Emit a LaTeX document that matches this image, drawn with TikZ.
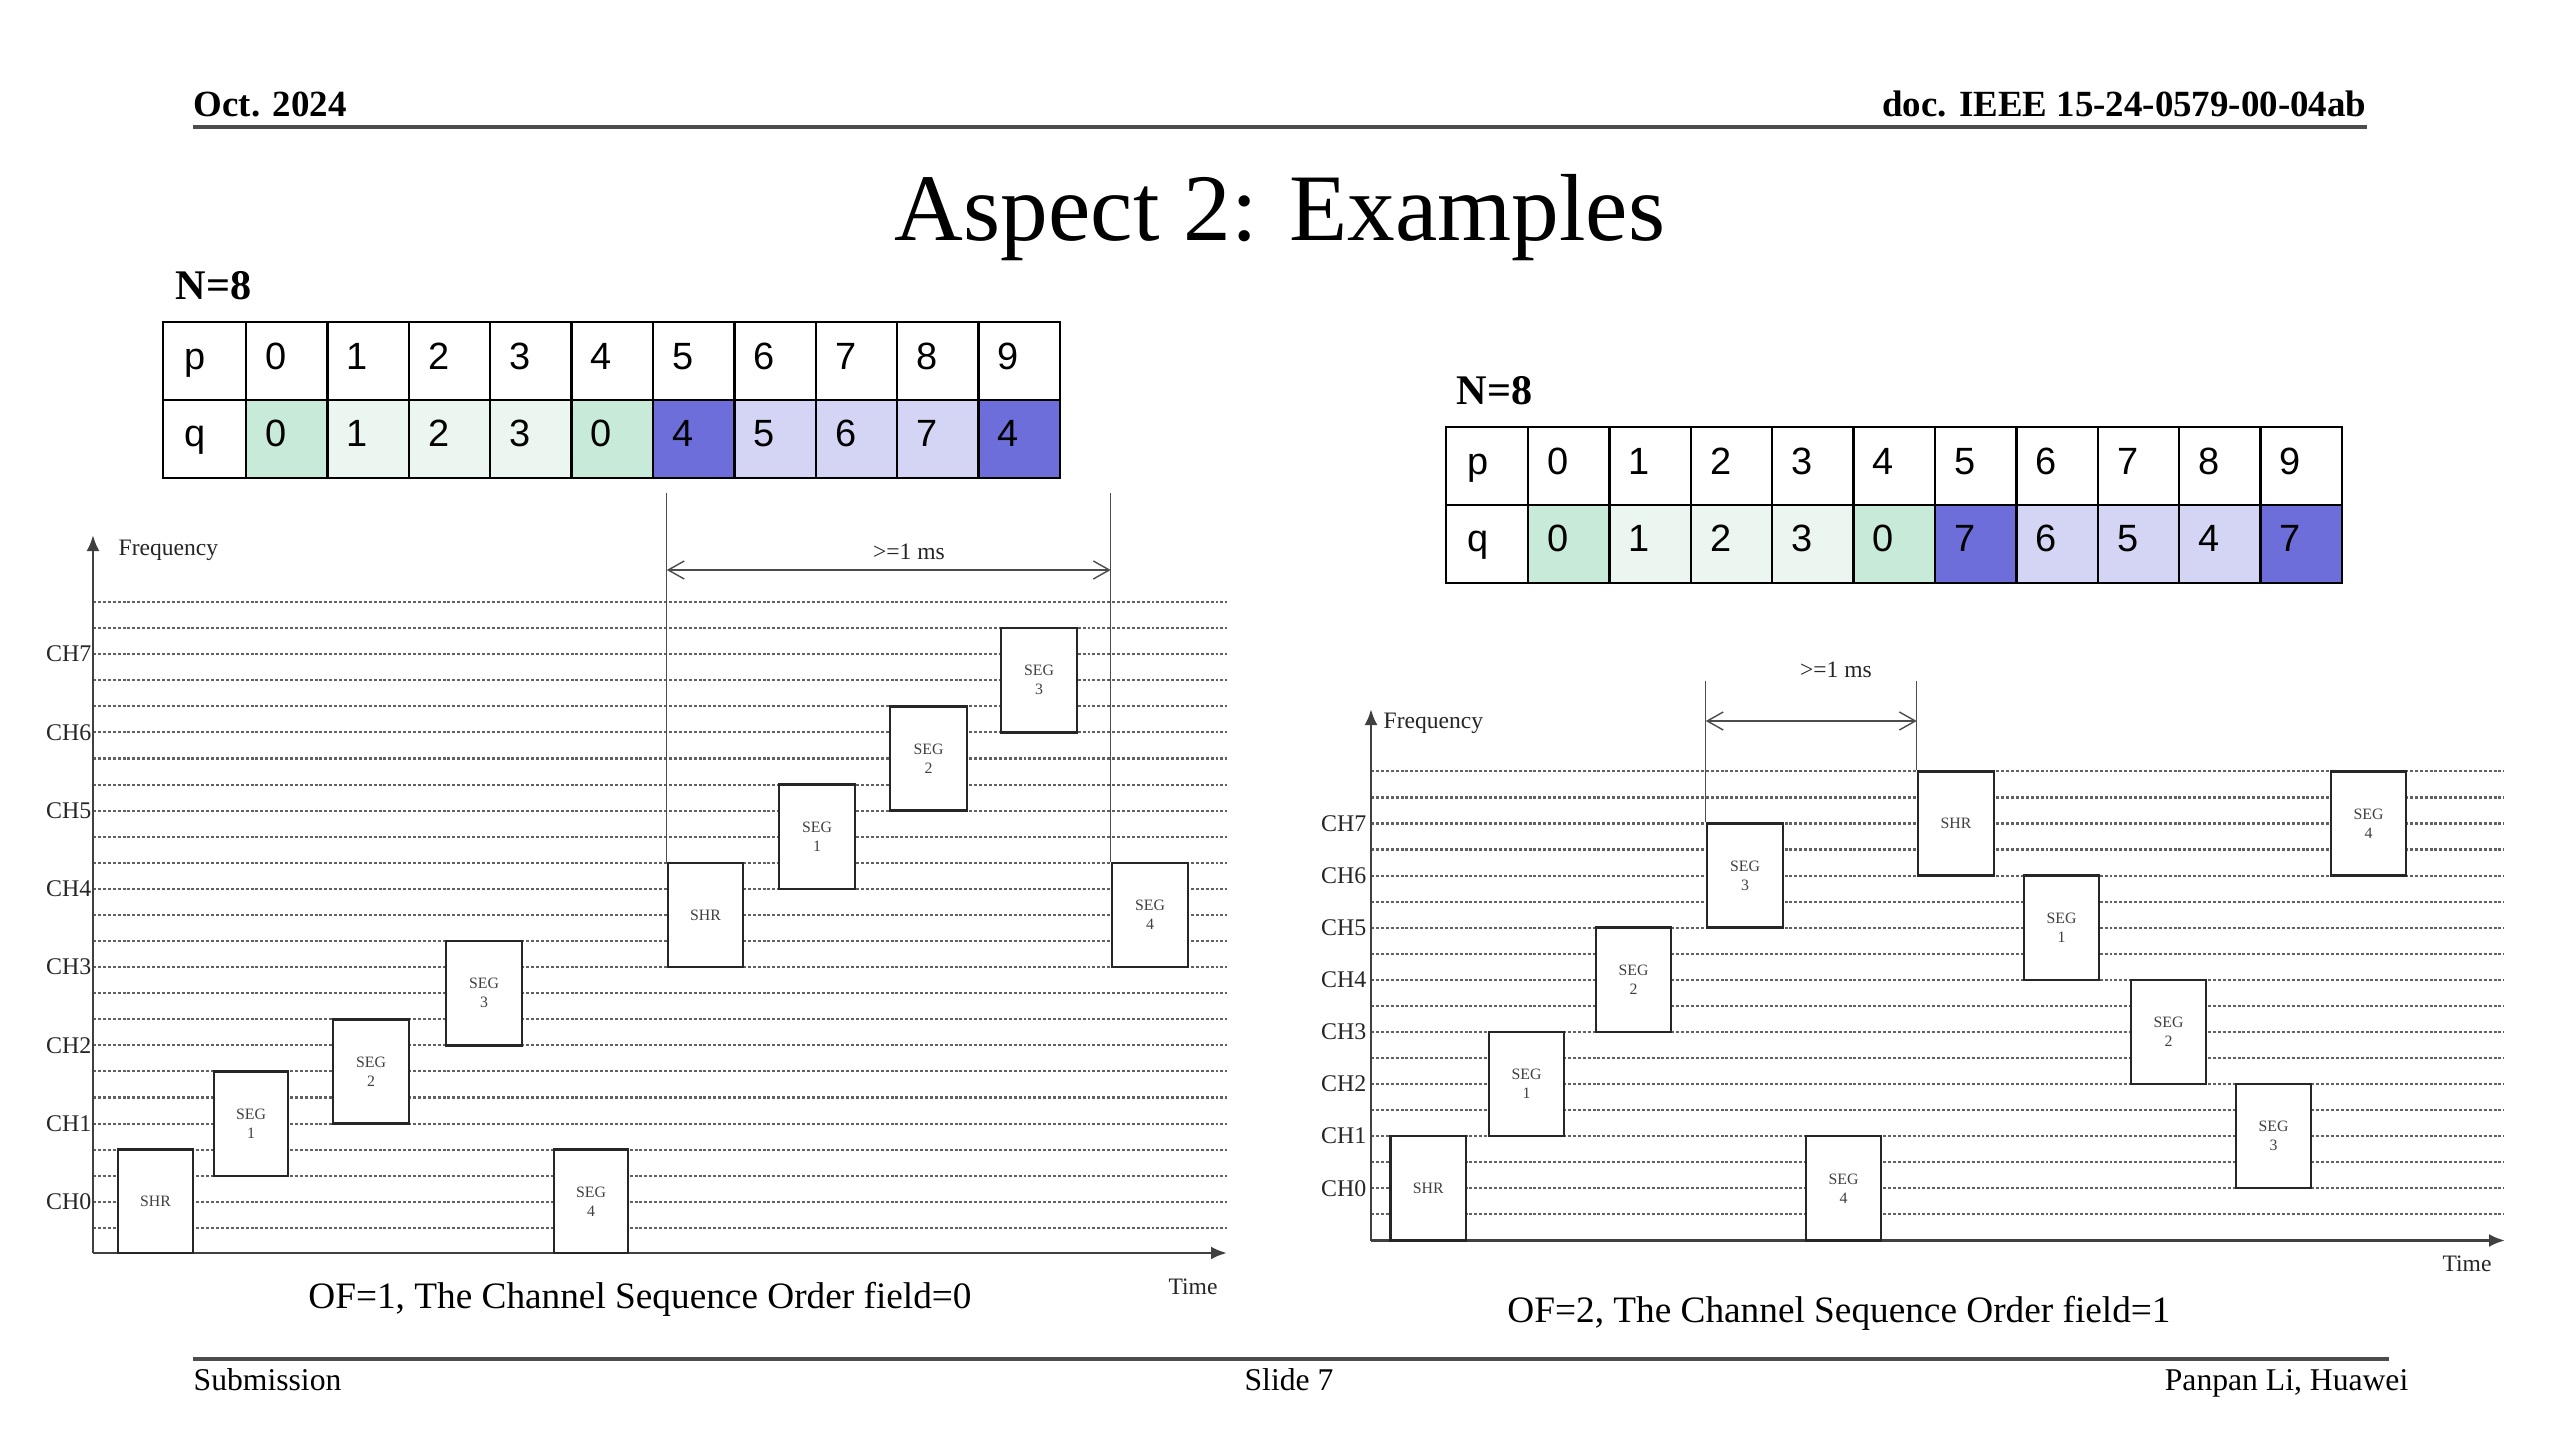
\documentclass[tikz,border=0pt]{standalone}
\usepackage{fontspec}
\setmainfont{Liberation Serif}
\newfontfamily\arialf{Liberation Sans}
\usetikzlibrary{arrows.meta}
\definecolor{cG}{RGB}{200,234,216}
\definecolor{cg}{RGB}{234,246,239}
\definecolor{cB}{RGB}{110,110,218}
\definecolor{cb}{RGB}{212,212,244}
\tikzset{
  gridl/.style={black!62, line width=0.6pt, dash pattern=on 0.85pt off 0.55pt},
  boxst/.style={draw=black!85, line width=0.7pt, fill=white, inner sep=0pt, align=center,
    font=\fontsize{4.5}{5.4}\selectfont, text=black!75},
  axisst/.style={draw=black!75, line width=0.8pt, -{Latex[length=0.16cm,width=0.13cm]}},
  dimline/.style={black!70, line width=0.4pt},
  dimarrow/.style={black!70, line width=0.4pt,
    {Straight Barb[length=0.16cm,width=0.18cm]}-{Straight Barb[length=0.16cm,width=0.18cm]}},
  chlab/.style={anchor=east, inner sep=0pt, font=\fontsize{6.8}{8}\selectfont, text=black!85},
  smalltxt/.style={font=\fontsize{6.7}{8}\selectfont, inner sep=0pt, text=black!85},
  captxt/.style={anchor=base, inner sep=0pt, font=\fontsize{10.6}{12}\selectfont},
  hdrtxt/.style={inner sep=0pt, font=\bfseries\fontsize{10.5}{12}\selectfont},
  foottxt/.style={inner sep=0pt, font=\fontsize{9}{11}\selectfont},
  tcell/.style={draw=black, line width=0.7pt, inner sep=0pt, minimum height=0.78cm},
  celltxt/.style={anchor=base west, inner sep=0pt, font=\arialf\fontsize{10.8}{12}\selectfont},
}
\newcommand{\mkbox}[6]{\node[boxst, minimum width={(#3-#2)*0.01cm}, minimum height={(#5-#4)*0.01cm}] (#1) at ({(#2+#3)/2},{(#4+#5)/2}) {#6};}
\begin{document}
\begin{tikzpicture}[x=0.01cm,y=-0.01cm]
\useasboundingbox (0,0) rectangle (2560,1440);
\fill[white] (0,0) rectangle (2560,1440);

% ---------- header / footer ----------
\node[hdrtxt, anchor=base west] (hdate) at (193,117) {Oct. 2024};
\node[hdrtxt, anchor=base east] (hdoc) at (2367,117) {doc. IEEE 15-24-0579-00-04ab};
\coordinate (hr1) at (193,127); \coordinate (hr2) at (2367,127);
\draw[black!70, line width=0.9pt] (hr1) -- (hr2);
\node[anchor=base, inner sep=0pt, font=\fontsize{27.1}{32}\selectfont] (title) at (1280,241) {Aspect 2: Examples};
\coordinate (fr1) at (193,1359); \coordinate (fr2) at (2389,1359);
\draw[black!70, line width=0.9pt] (fr1) -- (fr2);
\node[foottxt, anchor=base west] (fsub) at (193,1390) {Submission};
\node[foottxt, anchor=base] (fslide) at (1289,1390) {Slide 7};
\node[foottxt, anchor=base east] (fauth) at (2409,1390) {Panpan Li, Huawei};

% ---------- left table ----------
\node[hdrtxt, anchor=base west, font=\bfseries\fontsize{12}{14}\selectfont] (LN) at (175,300) {N=8};
\node[tcell, minimum width=0.83cm, fill=white] (LPh) at (204.5,361) {};
\node[tcell, minimum width=0.83cm, fill=white] (LQh) at (204.5,439) {};
\node[celltxt] (LPht) at (184,370) {p};
\node[celltxt] (LQht) at (184,447) {q};
\foreach \k/\pv/\qv/\cc in {0/0/0/cG,1/1/1/cg,2/2/2/cg,3/3/3/cg,4/4/0/cG,5/5/4/cB,6/6/5/cb,7/7/6/cb,8/8/7/cb,9/9/4/cB}{
  \node[tcell, minimum width=0.814cm, fill=white] (Lp\k) at ({286.7+81.4*\k},361) {};
  \node[tcell, minimum width=0.814cm, fill=\cc] (Lq\k) at ({286.7+81.4*\k},439) {};
  \node[celltxt] (Lpt\k) at ({264.5+81.4*\k},370) {\pv};
  \node[celltxt] (Lqt\k) at ({264.5+81.4*\k},447) {\qv};
}

% ---------- right table ----------
\node[hdrtxt, anchor=base west, font=\bfseries\fontsize{12}{14}\selectfont] (RN) at (1456,405) {N=8};
\node[tcell, minimum width=0.82cm, fill=white] (RPh) at (1487,466) {};
\node[tcell, minimum width=0.82cm, fill=white] (RQh) at (1487,544) {};
\node[celltxt] (RPht) at (1467,475) {p};
\node[celltxt] (RQht) at (1467,552) {q};
\foreach \k/\pv/\qv/\cc in {0/0/0/cG,1/1/1/cg,2/2/2/cg,3/3/3/cg,4/4/0/cG,5/5/7/cB,6/6/6/cb,7/7/5/cb,8/8/4/cb,9/9/7/cB}{
  \node[tcell, minimum width=0.814cm, fill=white] (Rp\k) at ({1568.7+81.4*\k},466) {};
  \node[tcell, minimum width=0.814cm, fill=\cc] (Rq\k) at ({1568.7+81.4*\k},544) {};
  \node[celltxt] (Rpt\k) at ({1546.5+81.4*\k},475) {\pv};
  \node[celltxt] (Rqt\k) at ({1546.5+81.4*\k},552) {\qv};
}

% ---------- left diagram ----------
\foreach \j in {0,...,24} \draw[gridl] (93,{602+26.08*\j}) -- (1227,{602+26.08*\j});
\coordinate (LO) at (93,1253);
\coordinate (LYtop) at (93,535);
\coordinate (LXend) at (1227,1253);
\draw[axisst] (LO) -- (LYtop);
\draw[axisst] (LO) -- (LXend);
\foreach \k in {0,...,7} \node[chlab] (LCH\k) at (92,{1201.8-78.24*\k}) {CH\k};
\node[smalltxt, anchor=west] (Lfreq) at (118,550) {Frequency};
\node[smalltxt] (Ltime) at (1193,1287) {Time};
\node[captxt] (Lcap) at (640,1308) {OF=1, The Channel Sequence Order field=0};

\mkbox{lshrA}{118}{193}{1149.7}{1253}{SHR}
\mkbox{lsegA1}{214}{288}{1071.4}{1175.8}{SEG\\1}
\mkbox{lsegA2}{333}{409}{1019.3}{1123.6}{SEG\\2}
\mkbox{lsegA3}{446}{522}{941}{1045.4}{SEG\\3}
\mkbox{lsegA4}{554}{628}{1149.7}{1253}{SEG\\4}
\mkbox{lshrB}{668}{743}{862.8}{967.1}{SHR}
\mkbox{lsegB1}{779}{855}{784.6}{888.9}{SEG\\1}
\mkbox{lsegB2}{890}{967}{706.3}{810.6}{SEG\\2}
\mkbox{lsegB3}{1001}{1077}{628.1}{732.4}{SEG\\3}
\mkbox{lsegB4}{1112}{1188}{862.8}{967.1}{SEG\\4}

\coordinate (Lt) at (0,493);
\coordinate (La) at (0,570);
\draw[dimline] (lshrB.north west |- Lt) -- (lshrB.north west);
\draw[dimline] (lsegB4.north west |- Lt) -- (lsegB4.north west);
\draw[dimarrow] (lshrB.north west |- La) -- (lsegB4.north west |- La);
\node[smalltxt] (Lms) at (909,552) {>=1 ms};

% ---------- right diagram ----------
\foreach \i in {0,...,17} \draw[gridl] (1371,{771.4+26.05*\i}) -- (2504,{771.4+26.05*\i});
\coordinate (RO) at (1371,1240.5);
\coordinate (RYtop) at (1371,709);
\coordinate (RXend) at (2505,1240.5);
\draw[axisst] (RO) -- (RYtop);
\draw[axisst] (RO) -- (RXend);
\foreach \k in {0,...,7} \node[chlab] (RCH\k) at (1367,{1188.2-52.1*\k}) {CH\k};
\node[smalltxt, anchor=west] (Rfreq) at (1383,723) {Frequency};
\node[smalltxt] (Rtime) at (2467,1264) {Time};
\node[captxt] (Rcap) at (1839,1322) {OF=2, The Channel Sequence Order field=1};

\mkbox{rshrA}{1390.6}{1466}{1136.1}{1240.5}{SHR}
\mkbox{rsegA1}{1489}{1564}{1031.9}{1136.1}{SEG\\1}
\mkbox{rsegA2}{1596}{1671}{927.7}{1031.9}{SEG\\2}
\mkbox{rsegA3}{1707}{1783}{823.5}{927.7}{SEG\\3}
\mkbox{rsegA4}{1806}{1881}{1136.1}{1240.5}{SEG\\4}
\mkbox{rshrB}{1918}{1994}{771.4}{875.6}{SHR}
\mkbox{rsegB1}{2024}{2099}{875.6}{979.8}{SEG\\1}
\mkbox{rsegB2}{2131}{2206}{979.8}{1084}{SEG\\2}
\mkbox{rsegB3}{2236}{2311}{1084}{1188.2}{SEG\\3}
\mkbox{rsegB4}{2331}{2406}{771.4}{875.6}{SEG\\4}

\coordinate (Rt) at (0,681);
\coordinate (Ra) at (0,721);
\draw[dimline] (rsegA3.north west |- Rt) -- (rsegA3.north west);
\draw[dimline] (rshrB.north west |- Rt) -- (rshrB.north west);
\draw[dimarrow] (rsegA3.north west |- Ra) -- (rshrB.north west |- Ra);
\node[smalltxt] (Rms) at (1836,670) {>=1 ms};
\end{tikzpicture}
\end{document}
